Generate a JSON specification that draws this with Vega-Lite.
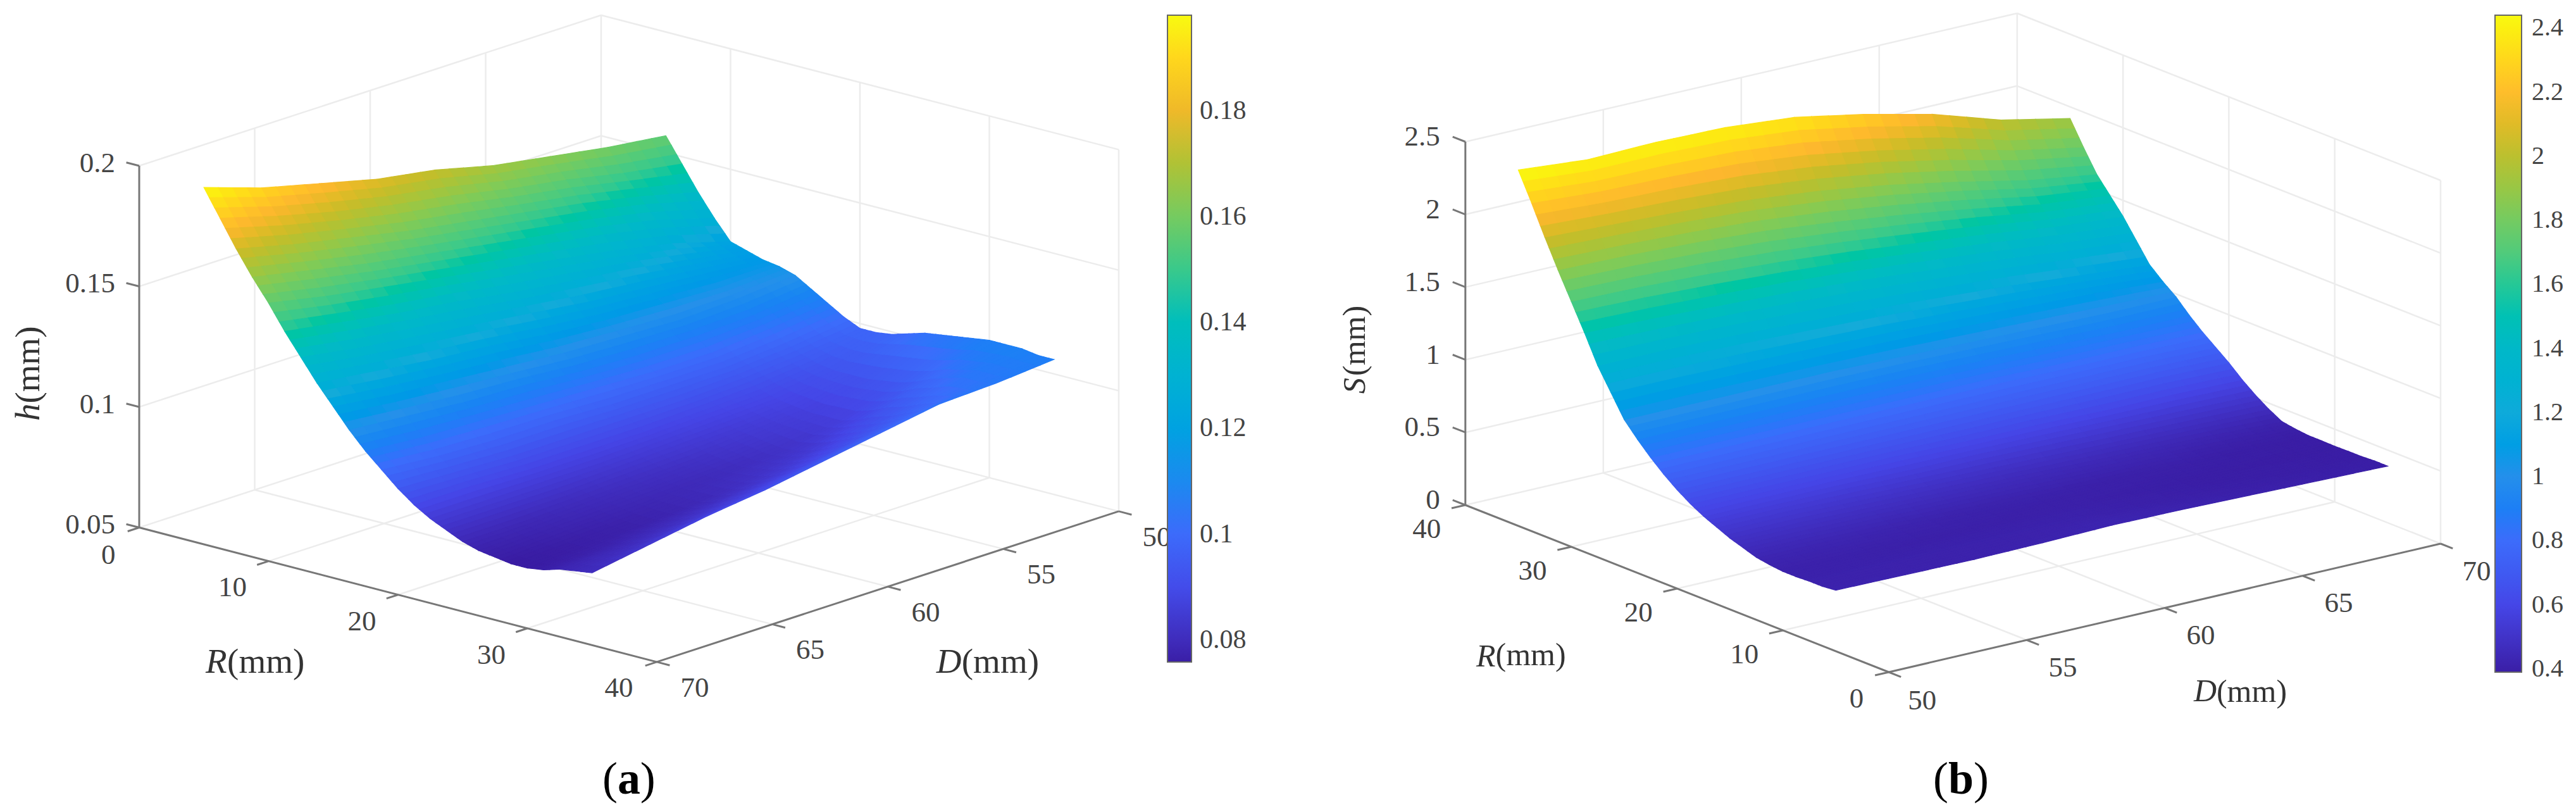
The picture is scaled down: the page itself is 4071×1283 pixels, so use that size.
{"$schema":"https://vega.github.io/schema/vega-lite/v6.json","width":4071,"height":1283,"autosize":{"type":"none"},"padding":0,"background":"white","config":{"view":{"stroke":null}},
"datasets":{
"surfA":[
{"R":5,"D":70,"h":0.198},{"R":5,"D":67.5,"h":0.19},{"R":5,"D":65,"h":0.184},{"R":5,"D":62.5,"h":0.178},{"R":5,"D":60,"h":0.174},{"R":5,"D":57.5,"h":0.168},{"R":5,"D":55,"h":0.164},{"R":5,"D":52.5,"h":0.16},{"R":5,"D":50,"h":0.157},
{"R":6.25,"D":70,"h":0.187},{"R":6.25,"D":67.5,"h":0.18},{"R":6.25,"D":65,"h":0.174},{"R":6.25,"D":62.5,"h":0.169},{"R":6.25,"D":60,"h":0.165},{"R":6.25,"D":57.5,"h":0.16},{"R":6.25,"D":55,"h":0.156},{"R":6.25,"D":52.5,"h":0.151},{"R":6.25,"D":50,"h":0.147},
{"R":7.5,"D":70,"h":0.176},{"R":7.5,"D":67.5,"h":0.17},{"R":7.5,"D":65,"h":0.165},{"R":7.5,"D":62.5,"h":0.16},{"R":7.5,"D":60,"h":0.156},{"R":7.5,"D":57.5,"h":0.152},{"R":7.5,"D":55,"h":0.148},{"R":7.5,"D":52.5,"h":0.143},{"R":7.5,"D":50,"h":0.137},
{"R":8.75,"D":70,"h":0.166},{"R":8.75,"D":67.5,"h":0.161},{"R":8.75,"D":65,"h":0.156},{"R":8.75,"D":62.5,"h":0.152},{"R":8.75,"D":60,"h":0.148},{"R":8.75,"D":57.5,"h":0.144},{"R":8.75,"D":55,"h":0.14},{"R":8.75,"D":52.5,"h":0.135},{"R":8.75,"D":50,"h":0.128},
{"R":10,"D":70,"h":0.157},{"R":10,"D":67.5,"h":0.152},{"R":10,"D":65,"h":0.148},{"R":10,"D":62.5,"h":0.144},{"R":10,"D":60,"h":0.14},{"R":10,"D":57.5,"h":0.136},{"R":10,"D":55,"h":0.132},{"R":10,"D":52.5,"h":0.127},{"R":10,"D":50,"h":0.12},
{"R":11.25,"D":70,"h":0.147},{"R":11.25,"D":67.5,"h":0.143},{"R":11.25,"D":65,"h":0.139},{"R":11.25,"D":62.5,"h":0.136},{"R":11.25,"D":60,"h":0.132},{"R":11.25,"D":57.5,"h":0.129},{"R":11.25,"D":55,"h":0.126},{"R":11.25,"D":52.5,"h":0.122},{"R":11.25,"D":50,"h":0.118},
{"R":12.5,"D":70,"h":0.138},{"R":12.5,"D":67.5,"h":0.134},{"R":12.5,"D":65,"h":0.131},{"R":12.5,"D":62.5,"h":0.128},{"R":12.5,"D":60,"h":0.125},{"R":12.5,"D":57.5,"h":0.122},{"R":12.5,"D":55,"h":0.12},{"R":12.5,"D":52.5,"h":0.118},{"R":12.5,"D":50,"h":0.116},
{"R":13.75,"D":70,"h":0.129},{"R":13.75,"D":67.5,"h":0.126},{"R":13.75,"D":65,"h":0.123},{"R":13.75,"D":62.5,"h":0.121},{"R":13.75,"D":60,"h":0.118},{"R":13.75,"D":57.5,"h":0.116},{"R":13.75,"D":55,"h":0.115},{"R":13.75,"D":52.5,"h":0.114},{"R":13.75,"D":50,"h":0.115},
{"R":15,"D":70,"h":0.121},{"R":15,"D":67.5,"h":0.118},{"R":15,"D":65,"h":0.116},{"R":15,"D":62.5,"h":0.114},{"R":15,"D":60,"h":0.112},{"R":15,"D":57.5,"h":0.111},{"R":15,"D":55,"h":0.11},{"R":15,"D":52.5,"h":0.111},{"R":15,"D":50,"h":0.113},
{"R":16.25,"D":70,"h":0.113},{"R":16.25,"D":67.5,"h":0.111},{"R":16.25,"D":65,"h":0.109},{"R":16.25,"D":62.5,"h":0.108},{"R":16.25,"D":60,"h":0.106},{"R":16.25,"D":57.5,"h":0.105},{"R":16.25,"D":55,"h":0.105},{"R":16.25,"D":52.5,"h":0.106},{"R":16.25,"D":50,"h":0.109},
{"R":17.5,"D":70,"h":0.106},{"R":17.5,"D":67.5,"h":0.104},{"R":17.5,"D":65,"h":0.103},{"R":17.5,"D":62.5,"h":0.102},{"R":17.5,"D":60,"h":0.101},{"R":17.5,"D":57.5,"h":0.1},{"R":17.5,"D":55,"h":0.1},{"R":17.5,"D":52.5,"h":0.102},{"R":17.5,"D":50,"h":0.105},
{"R":18.75,"D":70,"h":0.1},{"R":18.75,"D":67.5,"h":0.098},{"R":18.75,"D":65,"h":0.097},{"R":18.75,"D":62.5,"h":0.097},{"R":18.75,"D":60,"h":0.096},{"R":18.75,"D":57.5,"h":0.096},{"R":18.75,"D":55,"h":0.096},{"R":18.75,"D":52.5,"h":0.098},{"R":18.75,"D":50,"h":0.101},
{"R":20,"D":70,"h":0.094},{"R":20,"D":67.5,"h":0.093},{"R":20,"D":65,"h":0.092},{"R":20,"D":62.5,"h":0.092},{"R":20,"D":60,"h":0.092},{"R":20,"D":57.5,"h":0.092},{"R":20,"D":55,"h":0.093},{"R":20,"D":52.5,"h":0.095},{"R":20,"D":50,"h":0.098},
{"R":21.25,"D":70,"h":0.089},{"R":21.25,"D":67.5,"h":0.089},{"R":21.25,"D":65,"h":0.088},{"R":21.25,"D":62.5,"h":0.088},{"R":21.25,"D":60,"h":0.088},{"R":21.25,"D":57.5,"h":0.089},{"R":21.25,"D":55,"h":0.09},{"R":21.25,"D":52.5,"h":0.093},{"R":21.25,"D":50,"h":0.098},
{"R":22.5,"D":70,"h":0.085},{"R":22.5,"D":67.5,"h":0.085},{"R":22.5,"D":65,"h":0.085},{"R":22.5,"D":62.5,"h":0.085},{"R":22.5,"D":60,"h":0.086},{"R":22.5,"D":57.5,"h":0.087},{"R":22.5,"D":55,"h":0.088},{"R":22.5,"D":52.5,"h":0.092},{"R":22.5,"D":50,"h":0.099},
{"R":23.75,"D":70,"h":0.082},{"R":23.75,"D":67.5,"h":0.082},{"R":23.75,"D":65,"h":0.082},{"R":23.75,"D":62.5,"h":0.083},{"R":23.75,"D":60,"h":0.084},{"R":23.75,"D":57.5,"h":0.085},{"R":23.75,"D":55,"h":0.087},{"R":23.75,"D":52.5,"h":0.092},{"R":23.75,"D":50,"h":0.101},
{"R":25,"D":70,"h":0.079},{"R":25,"D":67.5,"h":0.079},{"R":25,"D":65,"h":0.08},{"R":25,"D":62.5,"h":0.081},{"R":25,"D":60,"h":0.082},{"R":25,"D":57.5,"h":0.084},{"R":25,"D":55,"h":0.086},{"R":25,"D":52.5,"h":0.092},{"R":25,"D":50,"h":0.103},
{"R":26.25,"D":70,"h":0.077},{"R":26.25,"D":67.5,"h":0.078},{"R":26.25,"D":65,"h":0.079},{"R":26.25,"D":62.5,"h":0.08},{"R":26.25,"D":60,"h":0.081},{"R":26.25,"D":57.5,"h":0.083},{"R":26.25,"D":55,"h":0.086},{"R":26.25,"D":52.5,"h":0.093},{"R":26.25,"D":50,"h":0.104},
{"R":27.5,"D":70,"h":0.076},{"R":27.5,"D":67.5,"h":0.077},{"R":27.5,"D":65,"h":0.078},{"R":27.5,"D":62.5,"h":0.079},{"R":27.5,"D":60,"h":0.08},{"R":27.5,"D":57.5,"h":0.082},{"R":27.5,"D":55,"h":0.086},{"R":27.5,"D":52.5,"h":0.094},{"R":27.5,"D":50,"h":0.105},
{"R":28.75,"D":70,"h":0.075},{"R":28.75,"D":67.5,"h":0.076},{"R":28.75,"D":65,"h":0.077},{"R":28.75,"D":62.5,"h":0.079},{"R":28.75,"D":60,"h":0.081},{"R":28.75,"D":57.5,"h":0.083},{"R":28.75,"D":55,"h":0.088},{"R":28.75,"D":52.5,"h":0.096},{"R":28.75,"D":50,"h":0.106},
{"R":30,"D":70,"h":0.075},{"R":30,"D":67.5,"h":0.076},{"R":30,"D":65,"h":0.077},{"R":30,"D":62.5,"h":0.079},{"R":30,"D":60,"h":0.082},{"R":30,"D":57.5,"h":0.085},{"R":30,"D":55,"h":0.091},{"R":30,"D":52.5,"h":0.099},{"R":30,"D":50,"h":0.107},
{"R":31.25,"D":70,"h":0.076},{"R":31.25,"D":67.5,"h":0.077},{"R":31.25,"D":65,"h":0.079},{"R":31.25,"D":62.5,"h":0.081},{"R":31.25,"D":60,"h":0.084},{"R":31.25,"D":57.5,"h":0.088},{"R":31.25,"D":55,"h":0.093},{"R":31.25,"D":52.5,"h":0.101},{"R":31.25,"D":50,"h":0.107},
{"R":32.5,"D":70,"h":0.078},{"R":32.5,"D":67.5,"h":0.079},{"R":32.5,"D":65,"h":0.081},{"R":32.5,"D":62.5,"h":0.084},{"R":32.5,"D":60,"h":0.087},{"R":32.5,"D":57.5,"h":0.091},{"R":32.5,"D":55,"h":0.096},{"R":32.5,"D":52.5,"h":0.103},{"R":32.5,"D":50,"h":0.107},
{"R":33.75,"D":70,"h":0.079},{"R":33.75,"D":67.5,"h":0.081},{"R":33.75,"D":65,"h":0.084},{"R":33.75,"D":62.5,"h":0.087},{"R":33.75,"D":60,"h":0.091},{"R":33.75,"D":57.5,"h":0.095},{"R":33.75,"D":55,"h":0.099},{"R":33.75,"D":52.5,"h":0.103},{"R":33.75,"D":50,"h":0.106},
{"R":35,"D":70,"h":0.08},{"R":35,"D":67.5,"h":0.084},{"R":35,"D":65,"h":0.088},{"R":35,"D":62.5,"h":0.091},{"R":35,"D":60,"h":0.095},{"R":35,"D":57.5,"h":0.099},{"R":35,"D":55,"h":0.103},{"R":35,"D":52.5,"h":0.104},{"R":35,"D":50,"h":0.106}
],
"surfB":[
{"R":5,"D":50,"S":0.42},{"R":5,"D":52.5,"S":0.415},{"R":5,"D":55,"S":0.41},{"R":5,"D":57.5,"S":0.415},{"R":5,"D":60,"S":0.425},{"R":5,"D":62.5,"S":0.42},{"R":5,"D":65,"S":0.41},{"R":5,"D":67.5,"S":0.4},{"R":5,"D":70,"S":0.39},
{"R":6.25,"D":50,"S":0.41},{"R":6.25,"D":52.5,"S":0.41},{"R":6.25,"D":55,"S":0.41},{"R":6.25,"D":57.5,"S":0.41},{"R":6.25,"D":60,"S":0.42},{"R":6.25,"D":62.5,"S":0.41},{"R":6.25,"D":65,"S":0.4},{"R":6.25,"D":67.5,"S":0.395},{"R":6.25,"D":70,"S":0.39},
{"R":7.5,"D":50,"S":0.41},{"R":7.5,"D":52.5,"S":0.41},{"R":7.5,"D":55,"S":0.41},{"R":7.5,"D":57.5,"S":0.41},{"R":7.5,"D":60,"S":0.41},{"R":7.5,"D":62.5,"S":0.4},{"R":7.5,"D":65,"S":0.395},{"R":7.5,"D":67.5,"S":0.39},{"R":7.5,"D":70,"S":0.385},
{"R":8.75,"D":50,"S":0.405},{"R":8.75,"D":52.5,"S":0.405},{"R":8.75,"D":55,"S":0.405},{"R":8.75,"D":57.5,"S":0.405},{"R":8.75,"D":60,"S":0.405},{"R":8.75,"D":62.5,"S":0.4},{"R":8.75,"D":65,"S":0.39},{"R":8.75,"D":67.5,"S":0.39},{"R":8.75,"D":70,"S":0.385},
{"R":10,"D":50,"S":0.405},{"R":10,"D":52.5,"S":0.405},{"R":10,"D":55,"S":0.4},{"R":10,"D":57.5,"S":0.4},{"R":10,"D":60,"S":0.4},{"R":10,"D":62.5,"S":0.395},{"R":10,"D":65,"S":0.39},{"R":10,"D":67.5,"S":0.385},{"R":10,"D":70,"S":0.383},
{"R":11.25,"D":50,"S":0.415},{"R":11.25,"D":52.5,"S":0.415},{"R":11.25,"D":55,"S":0.41},{"R":11.25,"D":57.5,"S":0.405},{"R":11.25,"D":60,"S":0.4},{"R":11.25,"D":62.5,"S":0.4},{"R":11.25,"D":65,"S":0.395},{"R":11.25,"D":67.5,"S":0.39},{"R":11.25,"D":70,"S":0.385},
{"R":12.5,"D":50,"S":0.43},{"R":12.5,"D":52.5,"S":0.43},{"R":12.5,"D":55,"S":0.42},{"R":12.5,"D":57.5,"S":0.41},{"R":12.5,"D":60,"S":0.41},{"R":12.5,"D":62.5,"S":0.4},{"R":12.5,"D":65,"S":0.4},{"R":12.5,"D":67.5,"S":0.39},{"R":12.5,"D":70,"S":0.385},
{"R":13.75,"D":50,"S":0.46},{"R":13.75,"D":52.5,"S":0.455},{"R":13.75,"D":55,"S":0.45},{"R":13.75,"D":57.5,"S":0.44},{"R":13.75,"D":60,"S":0.435},{"R":13.75,"D":62.5,"S":0.425},{"R":13.75,"D":65,"S":0.42},{"R":13.75,"D":67.5,"S":0.405},{"R":13.75,"D":70,"S":0.395},
{"R":15,"D":50,"S":0.49},{"R":15,"D":52.5,"S":0.49},{"R":15,"D":55,"S":0.48},{"R":15,"D":57.5,"S":0.47},{"R":15,"D":60,"S":0.46},{"R":15,"D":62.5,"S":0.45},{"R":15,"D":65,"S":0.44},{"R":15,"D":67.5,"S":0.43},{"R":15,"D":70,"S":0.41},
{"R":16.25,"D":50,"S":0.53},{"R":16.25,"D":52.5,"S":0.53},{"R":16.25,"D":55,"S":0.52},{"R":16.25,"D":57.5,"S":0.51},{"R":16.25,"D":60,"S":0.5},{"R":16.25,"D":62.5,"S":0.49},{"R":16.25,"D":65,"S":0.48},{"R":16.25,"D":67.5,"S":0.47},{"R":16.25,"D":70,"S":0.46},
{"R":17.5,"D":50,"S":0.57},{"R":17.5,"D":52.5,"S":0.57},{"R":17.5,"D":55,"S":0.57},{"R":17.5,"D":57.5,"S":0.56},{"R":17.5,"D":60,"S":0.56},{"R":17.5,"D":62.5,"S":0.55},{"R":17.5,"D":65,"S":0.54},{"R":17.5,"D":67.5,"S":0.53},{"R":17.5,"D":70,"S":0.52},
{"R":18.75,"D":50,"S":0.62},{"R":18.75,"D":52.5,"S":0.62},{"R":18.75,"D":55,"S":0.62},{"R":18.75,"D":57.5,"S":0.62},{"R":18.75,"D":60,"S":0.61},{"R":18.75,"D":62.5,"S":0.61},{"R":18.75,"D":65,"S":0.6},{"R":18.75,"D":67.5,"S":0.6},{"R":18.75,"D":70,"S":0.59},
{"R":20,"D":50,"S":0.68},{"R":20,"D":52.5,"S":0.68},{"R":20,"D":55,"S":0.68},{"R":20,"D":57.5,"S":0.68},{"R":20,"D":60,"S":0.68},{"R":20,"D":62.5,"S":0.68},{"R":20,"D":65,"S":0.68},{"R":20,"D":67.5,"S":0.68},{"R":20,"D":70,"S":0.67},
{"R":21.25,"D":50,"S":0.75},{"R":21.25,"D":52.5,"S":0.75},{"R":21.25,"D":55,"S":0.75},{"R":21.25,"D":57.5,"S":0.75},{"R":21.25,"D":60,"S":0.75},{"R":21.25,"D":62.5,"S":0.75},{"R":21.25,"D":65,"S":0.75},{"R":21.25,"D":67.5,"S":0.75},{"R":21.25,"D":70,"S":0.74},
{"R":22.5,"D":50,"S":0.83},{"R":22.5,"D":52.5,"S":0.83},{"R":22.5,"D":55,"S":0.83},{"R":22.5,"D":57.5,"S":0.83},{"R":22.5,"D":60,"S":0.83},{"R":22.5,"D":62.5,"S":0.83},{"R":22.5,"D":65,"S":0.82},{"R":22.5,"D":67.5,"S":0.82},{"R":22.5,"D":70,"S":0.81},
{"R":23.75,"D":50,"S":0.92},{"R":23.75,"D":52.5,"S":0.92},{"R":23.75,"D":55,"S":0.92},{"R":23.75,"D":57.5,"S":0.92},{"R":23.75,"D":60,"S":0.92},{"R":23.75,"D":62.5,"S":0.91},{"R":23.75,"D":65,"S":0.9},{"R":23.75,"D":67.5,"S":0.89},{"R":23.75,"D":70,"S":0.89},
{"R":25,"D":50,"S":1.02},{"R":25,"D":52.5,"S":1.02},{"R":25,"D":55,"S":1.02},{"R":25,"D":57.5,"S":1.02},{"R":25,"D":60,"S":1.01},{"R":25,"D":62.5,"S":1.0},{"R":25,"D":65,"S":0.99},{"R":25,"D":67.5,"S":0.98},{"R":25,"D":70,"S":0.98},
{"R":26.25,"D":50,"S":1.17},{"R":26.25,"D":52.5,"S":1.17},{"R":26.25,"D":55,"S":1.16},{"R":26.25,"D":57.5,"S":1.15},{"R":26.25,"D":60,"S":1.14},{"R":26.25,"D":62.5,"S":1.12},{"R":26.25,"D":65,"S":1.1},{"R":26.25,"D":67.5,"S":1.08},{"R":26.25,"D":70,"S":1.05},
{"R":27.5,"D":50,"S":1.32},{"R":27.5,"D":52.5,"S":1.32},{"R":27.5,"D":55,"S":1.31},{"R":27.5,"D":57.5,"S":1.29},{"R":27.5,"D":60,"S":1.27},{"R":27.5,"D":62.5,"S":1.24},{"R":27.5,"D":65,"S":1.21},{"R":27.5,"D":67.5,"S":1.17},{"R":27.5,"D":70,"S":1.13},
{"R":28.75,"D":50,"S":1.51},{"R":28.75,"D":52.5,"S":1.5},{"R":28.75,"D":55,"S":1.48},{"R":28.75,"D":57.5,"S":1.46},{"R":28.75,"D":60,"S":1.43},{"R":28.75,"D":62.5,"S":1.39},{"R":28.75,"D":65,"S":1.35},{"R":28.75,"D":67.5,"S":1.3},{"R":28.75,"D":70,"S":1.26},
{"R":30,"D":50,"S":1.69},{"R":30,"D":52.5,"S":1.68},{"R":30,"D":55,"S":1.66},{"R":30,"D":57.5,"S":1.63},{"R":30,"D":60,"S":1.59},{"R":30,"D":62.5,"S":1.54},{"R":30,"D":65,"S":1.49},{"R":30,"D":67.5,"S":1.43},{"R":30,"D":70,"S":1.39},
{"R":31.25,"D":50,"S":1.87},{"R":31.25,"D":52.5,"S":1.86},{"R":31.25,"D":55,"S":1.84},{"R":31.25,"D":57.5,"S":1.81},{"R":31.25,"D":60,"S":1.76},{"R":31.25,"D":62.5,"S":1.7},{"R":31.25,"D":65,"S":1.63},{"R":31.25,"D":67.5,"S":1.55},{"R":31.25,"D":70,"S":1.5},
{"R":32.5,"D":50,"S":2.06},{"R":32.5,"D":52.5,"S":2.04},{"R":32.5,"D":55,"S":2.02},{"R":32.5,"D":57.5,"S":1.99},{"R":32.5,"D":60,"S":1.94},{"R":32.5,"D":62.5,"S":1.87},{"R":32.5,"D":65,"S":1.78},{"R":32.5,"D":67.5,"S":1.68},{"R":32.5,"D":70,"S":1.61},
{"R":33.75,"D":50,"S":2.26},{"R":33.75,"D":52.5,"S":2.23},{"R":33.75,"D":55,"S":2.22},{"R":33.75,"D":57.5,"S":2.2},{"R":33.75,"D":60,"S":2.15},{"R":33.75,"D":62.5,"S":2.07},{"R":33.75,"D":65,"S":1.97},{"R":33.75,"D":67.5,"S":1.85},{"R":33.75,"D":70,"S":1.76},
{"R":35,"D":50,"S":2.45},{"R":35,"D":52.5,"S":2.41},{"R":35,"D":55,"S":2.42},{"R":35,"D":57.5,"S":2.41},{"R":35,"D":60,"S":2.37},{"R":35,"D":62.5,"S":2.28},{"R":35,"D":65,"S":2.17},{"R":35,"D":67.5,"S":2.02},{"R":35,"D":70,"S":1.92}
],
"grid":[
{"p":"a","R":0,"D":70,"z":0.05,"R2":0,"D2":50,"z2":0.05},{"p":"a","R":0,"D":70,"z":0.1,"R2":0,"D2":50,"z2":0.1},{"p":"a","R":0,"D":70,"z":0.15,"R2":0,"D2":50,"z2":0.15},{"p":"a","R":0,"D":70,"z":0.2,"R2":0,"D2":50,"z2":0.2},
{"p":"a","R":0,"D":65,"z":0.05,"R2":0,"D2":65,"z2":0.2},{"p":"a","R":0,"D":60,"z":0.05,"R2":0,"D2":60,"z2":0.2},{"p":"a","R":0,"D":55,"z":0.05,"R2":0,"D2":55,"z2":0.2},{"p":"a","R":0,"D":50,"z":0.05,"R2":0,"D2":50,"z2":0.2},
{"p":"a","R":0,"D":50,"z":0.05,"R2":40,"D2":50,"z2":0.05},{"p":"a","R":0,"D":50,"z":0.1,"R2":40,"D2":50,"z2":0.1},{"p":"a","R":0,"D":50,"z":0.15,"R2":40,"D2":50,"z2":0.15},{"p":"a","R":0,"D":50,"z":0.2,"R2":40,"D2":50,"z2":0.2},
{"p":"a","R":10,"D":50,"z":0.05,"R2":10,"D2":50,"z2":0.2},{"p":"a","R":20,"D":50,"z":0.05,"R2":20,"D2":50,"z2":0.2},{"p":"a","R":30,"D":50,"z":0.05,"R2":30,"D2":50,"z2":0.2},{"p":"a","R":40,"D":50,"z":0.05,"R2":40,"D2":50,"z2":0.2},
{"p":"a","R":0,"D":65,"z":0.05,"R2":40,"D2":65,"z2":0.05},{"p":"a","R":0,"D":60,"z":0.05,"R2":40,"D2":60,"z2":0.05},{"p":"a","R":0,"D":55,"z":0.05,"R2":40,"D2":55,"z2":0.05},
{"p":"a","R":10,"D":70,"z":0.05,"R2":10,"D2":50,"z2":0.05},{"p":"a","R":20,"D":70,"z":0.05,"R2":20,"D2":50,"z2":0.05},{"p":"a","R":30,"D":70,"z":0.05,"R2":30,"D2":50,"z2":0.05},
{"p":"b","R":40,"D":50,"z":0,"R2":40,"D2":70,"z2":0},{"p":"b","R":40,"D":50,"z":0.5,"R2":40,"D2":70,"z2":0.5},{"p":"b","R":40,"D":50,"z":1,"R2":40,"D2":70,"z2":1},{"p":"b","R":40,"D":50,"z":1.5,"R2":40,"D2":70,"z2":1.5},{"p":"b","R":40,"D":50,"z":2,"R2":40,"D2":70,"z2":2},{"p":"b","R":40,"D":50,"z":2.5,"R2":40,"D2":70,"z2":2.5},
{"p":"b","R":40,"D":55,"z":0,"R2":40,"D2":55,"z2":2.5},{"p":"b","R":40,"D":60,"z":0,"R2":40,"D2":60,"z2":2.5},{"p":"b","R":40,"D":65,"z":0,"R2":40,"D2":65,"z2":2.5},{"p":"b","R":40,"D":70,"z":0,"R2":40,"D2":70,"z2":2.5},
{"p":"b","R":40,"D":70,"z":0,"R2":0,"D2":70,"z2":0},{"p":"b","R":40,"D":70,"z":0.5,"R2":0,"D2":70,"z2":0.5},{"p":"b","R":40,"D":70,"z":1,"R2":0,"D2":70,"z2":1},{"p":"b","R":40,"D":70,"z":1.5,"R2":0,"D2":70,"z2":1.5},{"p":"b","R":40,"D":70,"z":2,"R2":0,"D2":70,"z2":2},{"p":"b","R":40,"D":70,"z":2.5,"R2":0,"D2":70,"z2":2.5},
{"p":"b","R":30,"D":70,"z":0,"R2":30,"D2":70,"z2":2.5},{"p":"b","R":20,"D":70,"z":0,"R2":20,"D2":70,"z2":2.5},{"p":"b","R":10,"D":70,"z":0,"R2":10,"D2":70,"z2":2.5},{"p":"b","R":0,"D":70,"z":0,"R2":0,"D2":70,"z2":2.5},
{"p":"b","R":40,"D":55,"z":0,"R2":0,"D2":55,"z2":0},{"p":"b","R":40,"D":60,"z":0,"R2":0,"D2":60,"z2":0},{"p":"b","R":40,"D":65,"z":0,"R2":0,"D2":65,"z2":0},
{"p":"b","R":10,"D":50,"z":0,"R2":10,"D2":70,"z2":0},{"p":"b","R":20,"D":50,"z":0,"R2":20,"D2":70,"z2":0},{"p":"b","R":30,"D":50,"z":0,"R2":30,"D2":70,"z2":0}
],
"axes":[
{"p":"a","R":0,"D":70,"z":0.05,"R2":0,"D2":70,"z2":0.2},{"p":"a","R":0,"D":70,"z":0.05,"R2":40,"D2":70,"z2":0.05},{"p":"a","R":40,"D":70,"z":0.05,"R2":40,"D2":50,"z2":0.05},
{"p":"a","R":0,"D":70,"z":0.05,"R2":-1,"D2":70,"z2":0.05},{"p":"a","R":0,"D":70,"z":0.1,"R2":-1,"D2":70,"z2":0.1},{"p":"a","R":0,"D":70,"z":0.15,"R2":-1,"D2":70,"z2":0.15},{"p":"a","R":0,"D":70,"z":0.2,"R2":-1,"D2":70,"z2":0.2},
{"p":"a","R":0,"D":70,"z":0.05,"R2":0,"D2":70.5,"z2":0.05},{"p":"a","R":10,"D":70,"z":0.05,"R2":10,"D2":70.5,"z2":0.05},{"p":"a","R":20,"D":70,"z":0.05,"R2":20,"D2":70.5,"z2":0.05},{"p":"a","R":30,"D":70,"z":0.05,"R2":30,"D2":70.5,"z2":0.05},{"p":"a","R":40,"D":70,"z":0.05,"R2":40,"D2":70.5,"z2":0.05},
{"p":"a","R":40,"D":70,"z":0.05,"R2":41,"D2":70,"z2":0.05},{"p":"a","R":40,"D":65,"z":0.05,"R2":41,"D2":65,"z2":0.05},{"p":"a","R":40,"D":60,"z":0.05,"R2":41,"D2":60,"z2":0.05},{"p":"a","R":40,"D":55,"z":0.05,"R2":41,"D2":55,"z2":0.05},{"p":"a","R":40,"D":50,"z":0.05,"R2":41,"D2":50,"z2":0.05},
{"p":"b","R":40,"D":50,"z":0,"R2":40,"D2":50,"z2":2.5},{"p":"b","R":40,"D":50,"z":0,"R2":0,"D2":50,"z2":0},{"p":"b","R":0,"D":50,"z":0,"R2":0,"D2":70,"z2":0},
{"p":"b","R":40,"D":50,"z":0,"R2":41.2,"D2":50,"z2":0},{"p":"b","R":40,"D":50,"z":0.5,"R2":41.2,"D2":50,"z2":0.5},{"p":"b","R":40,"D":50,"z":1,"R2":41.2,"D2":50,"z2":1},{"p":"b","R":40,"D":50,"z":1.5,"R2":41.2,"D2":50,"z2":1.5},{"p":"b","R":40,"D":50,"z":2,"R2":41.2,"D2":50,"z2":2},{"p":"b","R":40,"D":50,"z":2.5,"R2":41.2,"D2":50,"z2":2.5},
{"p":"b","R":40,"D":50,"z":0,"R2":40,"D2":49.5,"z2":0},{"p":"b","R":30,"D":50,"z":0,"R2":30,"D2":49.5,"z2":0},{"p":"b","R":20,"D":50,"z":0,"R2":20,"D2":49.5,"z2":0},{"p":"b","R":10,"D":50,"z":0,"R2":10,"D2":49.5,"z2":0},{"p":"b","R":0,"D":50,"z":0,"R2":0,"D2":49.5,"z2":0},
{"p":"b","R":0,"D":50,"z":0,"R2":-1.15,"D2":50,"z2":0},{"p":"b","R":0,"D":55,"z":0,"R2":-1.15,"D2":55,"z2":0},{"p":"b","R":0,"D":60,"z":0,"R2":-1.15,"D2":60,"z2":0},{"p":"b","R":0,"D":65,"z":0,"R2":-1.15,"D2":65,"z2":0},{"p":"b","R":0,"D":70,"z":0,"R2":-1.15,"D2":70,"z2":0}
],
"tickLabels":[
{"p":"a","t":"0","R":0.4,"D":71.56,"z":0.0439},{"p":"a","t":"10","R":10,"D":71.56,"z":0.0439},{"p":"a","t":"20","R":20,"D":71.56,"z":0.0439},{"p":"a","t":"30","R":30,"D":71.56,"z":0.0439},{"p":"a","t":"40","R":39.85,"D":71.56,"z":0.0439},
{"p":"a","t":"70","R":42.93,"D":70,"z":0.0434},{"p":"a","t":"65","R":42.93,"D":65,"z":0.0434},{"p":"a","t":"60","R":42.93,"D":60,"z":0.0434},{"p":"a","t":"55","R":42.93,"D":55,"z":0.0434},{"p":"a","t":"50","R":42.93,"D":50,"z":0.0434},
{"p":"b","t":"40","R":40,"D":48.6,"z":-0.1045},{"p":"b","t":"30","R":30,"D":48.6,"z":-0.1045},{"p":"b","t":"20","R":20,"D":48.6,"z":-0.1045},{"p":"b","t":"10","R":10,"D":48.6,"z":-0.1045},{"p":"b","t":"0","R":-0.6,"D":48.6,"z":-0.1045},
{"p":"b","t":"50","R":-3.41,"D":49.9,"z":-0.0915},{"p":"b","t":"55","R":-3.41,"D":55,"z":-0.0915},{"p":"b","t":"60","R":-3.41,"D":60,"z":-0.0915},{"p":"b","t":"65","R":-3.41,"D":65,"z":-0.0915},{"p":"b","t":"70","R":-3.41,"D":70,"z":-0.0915}
],
"zLabels":[
{"p":"a","t":"0.2","R":-1.86,"D":70,"z":0.1985},{"p":"a","t":"0.15","R":-1.86,"D":70,"z":0.1485},{"p":"a","t":"0.1","R":-1.86,"D":70,"z":0.0985},{"p":"a","t":"0.05","R":-1.86,"D":70,"z":0.0485},
{"p":"b","t":"2.5","R":42.39,"D":50,"z":2.465},{"p":"b","t":"2","R":42.39,"D":50,"z":1.965},{"p":"b","t":"1.5","R":42.39,"D":50,"z":1.465},{"p":"b","t":"1","R":42.39,"D":50,"z":0.965},{"p":"b","t":"0.5","R":42.39,"D":50,"z":0.465},{"p":"b","t":"0","R":42.39,"D":50,"z":-0.035}
],
"titleItalic":[
{"p":"a","t":"R","ang":0,"R":5.13,"D":70,"z":0.00139},{"p":"a","t":"D","ang":0,"R":61.6,"D":70,"z":0.0801},{"p":"a","t":"h","ang":270,"R":-8.557,"D":70,"z":0.0823},
{"p":"b","t":"R","ang":0,"R":38.97,"D":50,"z":-1.0157},{"p":"b","t":"D","ang":0,"R":0,"D":61.055,"z":-0.6237},{"p":"b","t":"S","ang":270,"R":50.36,"D":50,"z":0.4686}
],
"titleUnit":[
{"p":"a","t":"(mm)","ang":0,"R":6.8,"D":70,"z":0.0037},{"p":"a","t":"(mm)","ang":0,"R":63.56,"D":70,"z":0.0828},{"p":"a","t":"(mm)","ang":270,"R":-8.557,"D":70,"z":0.0895},
{"p":"b","t":"(mm)","ang":0,"R":37.15,"D":50,"z":-0.9547},{"p":"b","t":"(mm)","ang":0,"R":0,"D":61.88,"z":-0.6638},{"p":"b","t":"(mm)","ang":270,"R":50.36,"D":50,"z":0.5906}
],
"capParen":[
{"p":"a","t":"(","R":36.38,"D":70,"z":-0.0039},{"p":"a","t":")","R":39.3,"D":70,"z":0.0002},
{"p":"b","t":"(","R":0,"D":51.88,"z":-0.8236},{"p":"b","t":")","R":0,"D":53.349,"z":-0.8885}
],
"capBold":[
{"p":"a","t":"a","R":37.85,"D":70,"z":-0.00184},{"p":"b","t":"b","R":0,"D":52.615,"z":-0.8558}
],
"barTicks":[
{"p":"a","v":0.08},{"p":"a","v":0.1},{"p":"a","v":0.12},{"p":"a","v":0.14},{"p":"a","v":0.16},{"p":"a","v":0.18},
{"p":"b","v":0.4},{"p":"b","v":0.6},{"p":"b","v":0.8},{"p":"b","v":1},{"p":"b","v":1.2},{"p":"b","v":1.4},{"p":"b","v":1.6},{"p":"b","v":1.8},{"p":"b","v":2},{"p":"b","v":2.2},{"p":"b","v":2.4}
]
},
"encoding":{
"x":{"field":"px","type":"quantitative","axis":null,"scale":{"domain":[0,4071],"nice":false,"zero":false}},
"y":{"field":"py","type":"quantitative","axis":null,"scale":{"domain":[1283,0],"nice":false,"zero":false}}
},
"resolve":{"scale":{"fill":"independent","stroke":"independent"}},
"layer":[
{"data":{"name":"grid"},
"transform":[
{"calculate":"datum.p=='a'?220+20.45*datum.R+36.5*(70-datum.D):2985-16.73*datum.R+43.6*(datum.D-50)","as":"px"},
{"calculate":"datum.p=='a'?833.5+5.31*datum.R-11.9*(70-datum.D)-3810*(datum.z-0.05):1062-6.6*datum.R-10.15*(datum.D-50)-229.6*datum.z","as":"py"},
{"calculate":"datum.p=='a'?220+20.45*datum.R2+36.5*(70-datum.D2):2985-16.73*datum.R2+43.6*(datum.D2-50)","as":"px2"},
{"calculate":"datum.p=='a'?833.5+5.31*datum.R2-11.9*(70-datum.D2)-3810*(datum.z2-0.05):1062-6.6*datum.R2-10.15*(datum.D2-50)-229.6*datum.z2","as":"py2"}],
"mark":{"type":"rule","color":"#ececec","strokeWidth":2.5},
"encoding":{"x2":{"field":"px2"},"y2":{"field":"py2"}}},
{"data":{"name":"surfA"},
"transform":[
{"calculate":"[0,1,2,3]","as":"c"},{"flatten":["c"]},
{"calculate":"round((datum.R-5)/1.25)-((datum.c==1||datum.c==2)?1:0)","as":"ci"},
{"calculate":"round((70-datum.D)/2.5)-(datum.c>=2?1:0)","as":"cj"},
{"filter":"datum.ci>=0&&datum.ci<24&&datum.cj>=0&&datum.cj<8"},
{"pivot":"c","value":"h","groupby":["ci","cj"],"op":"mean"},
{"calculate":"[0,1,2]","as":"u"},{"flatten":["u"]},
{"calculate":"[0,1,2,3]","as":"v"},{"flatten":["v"]},
{"calculate":"[0,1,2,3]","as":"k"},{"flatten":["k"]},
{"calculate":"datum.ci*10000+datum.cj*100+datum.u*10+datum.v","as":"sub"},
{"calculate":"(datum.u+((datum.k==1||datum.k==2)?1:0))/3","as":"su"},
{"calculate":"(datum.v+(datum.k>=2?1:0))/4","as":"sv"},
{"calculate":"(1-datum.su)*(1-datum.sv)*datum['0']+datum.su*(1-datum.sv)*datum['1']+datum.su*datum.sv*datum['2']+(1-datum.su)*datum.sv*datum['3']","as":"hv"},
{"calculate":"(datum.u+0.5)/3","as":"mu"},
{"calculate":"(datum.v+0.5)/4","as":"mv"},
{"calculate":"(1-datum.mu)*(1-datum.mv)*datum['0']+datum.mu*(1-datum.mv)*datum['1']+datum.mu*datum.mv*datum['2']+(1-datum.mu)*datum.mv*datum['3']","as":"hc"},
{"calculate":"5+1.25*(datum.ci+datum.su)","as":"Rv"},
{"calculate":"2.5*(datum.cj+datum.sv)","as":"dv"},
{"calculate":"220+20.45*datum.Rv+36.5*datum.dv","as":"px"},
{"calculate":"833.5+5.31*datum.Rv-11.9*datum.dv-3810*(datum.hv-0.05)","as":"py"}],
"mark":{"type":"line","interpolate":"linear-closed","strokeWidth":1.2},
"encoding":{"detail":{"field":"sub"},"order":{"field":"k"},
"fill":{"field":"hc","type":"quantitative","scale":{"domain":[0.0758,0.088,0.1002,0.1125,0.1247,0.1369,0.1491,0.1613,0.1736,0.1821,0.198],"range":["#3a1ea6","#4545e6","#3c6cfb","#2590ea","#14abd9","#04b9c6","#33c98f","#7dcb5a","#c5bd2a","#fdb72e","#f8fa10"]},
"legend":{"type":"gradient","orient":"none","legendX":1845,"legendY":24,"title":null,"direction":"vertical","padding":0,"gradientLength":1022,"gradientThickness":38,"gradientStrokeColor":"#666","gradientStrokeWidth":2,"values":[0.08,0.1,0.12,0.14,0.16,0.18],"format":".2~f","labelFont":"Liberation Serif","labelFontSize":42,"labelColor":"#444","labelOffset":13,"labelOverlap":false}},
"stroke":{"field":"hc","type":"quantitative","legend":null,"scale":{"domain":[0.07581,0.088,0.1002,0.1125,0.1247,0.1369,0.1491,0.1613,0.1736,0.1821,0.198],"range":["#3a1ea6","#4545e6","#3c6cfb","#2590ea","#14abd9","#04b9c6","#33c98f","#7dcb5a","#c5bd2a","#fdb72e","#f8fa10"]}}}},
{"data":{"name":"surfB"},
"transform":[
{"calculate":"[0,1,2,3]","as":"c"},{"flatten":["c"]},
{"calculate":"round((datum.R-5)/1.25)-((datum.c==1||datum.c==2)?1:0)","as":"ci"},
{"calculate":"round((datum.D-50)/2.5)-(datum.c>=2?1:0)","as":"cj"},
{"filter":"datum.ci>=0&&datum.ci<24&&datum.cj>=0&&datum.cj<8"},
{"pivot":"c","value":"S","groupby":["ci","cj"],"op":"mean"},
{"calculate":"[0,1,2]","as":"u"},{"flatten":["u"]},
{"calculate":"[0,1,2,3]","as":"v"},{"flatten":["v"]},
{"calculate":"[0,1,2,3]","as":"k"},{"flatten":["k"]},
{"calculate":"datum.ci*10000+datum.cj*100+datum.u*10+datum.v","as":"sub"},
{"calculate":"(datum.u+((datum.k==1||datum.k==2)?1:0))/3","as":"su"},
{"calculate":"(datum.v+(datum.k>=2?1:0))/4","as":"sv"},
{"calculate":"(1-datum.su)*(1-datum.sv)*datum['0']+datum.su*(1-datum.sv)*datum['1']+datum.su*datum.sv*datum['2']+(1-datum.su)*datum.sv*datum['3']","as":"sval"},
{"calculate":"(datum.u+0.5)/3","as":"mu"},
{"calculate":"(datum.v+0.5)/4","as":"mv"},
{"calculate":"(1-datum.mu)*(1-datum.mv)*datum['0']+datum.mu*(1-datum.mv)*datum['1']+datum.mu*datum.mv*datum['2']+(1-datum.mu)*datum.mv*datum['3']","as":"sc"},
{"calculate":"5+1.25*(datum.ci+datum.su)","as":"Rv"},
{"calculate":"2.5*(datum.cj+datum.sv)","as":"ev"},
{"calculate":"2985-16.73*datum.Rv+43.6*datum.ev","as":"px"},
{"calculate":"1062-6.6*datum.Rv-10.15*datum.ev-229.6*datum.sval","as":"py"}],
"mark":{"type":"line","interpolate":"linear-closed","strokeWidth":1.2},
"encoding":{"detail":{"field":"sub"},"order":{"field":"k"},
"fill":{"field":"sc","type":"quantitative","scale":{"domain":[0.39,0.595,0.8,1.005,1.21,1.415,1.62,1.825,2.03,2.1735,2.44],"range":["#3a1ea6","#4545e6","#3c6cfb","#2590ea","#14abd9","#04b9c6","#33c98f","#7dcb5a","#c5bd2a","#fdb72e","#f8fa10"]},
"legend":{"type":"gradient","orient":"none","legendX":3943,"legendY":24,"title":null,"direction":"vertical","padding":0,"gradientLength":1038,"gradientThickness":42,"gradientStrokeColor":"#666","gradientStrokeWidth":2,"values":[0.4,0.6,0.8,1,1.2,1.4,1.6,1.8,2,2.2,2.4],"format":".1~f","labelFont":"Liberation Serif","labelFontSize":40,"labelColor":"#444","labelOffset":16,"labelOverlap":false}},
"stroke":{"field":"sc","type":"quantitative","legend":null,"scale":{"domain":[0.3901,0.595,0.8,1.005,1.21,1.415,1.62,1.825,2.03,2.1735,2.44],"range":["#3a1ea6","#4545e6","#3c6cfb","#2590ea","#14abd9","#04b9c6","#33c98f","#7dcb5a","#c5bd2a","#fdb72e","#f8fa10"]}}}},
{"data":{"name":"axes"},
"transform":[
{"calculate":"datum.p=='a'?220+20.45*datum.R+36.5*(70-datum.D):2985-16.73*datum.R+43.6*(datum.D-50)","as":"px"},
{"calculate":"datum.p=='a'?833.5+5.31*datum.R-11.9*(70-datum.D)-3810*(datum.z-0.05):1062-6.6*datum.R-10.15*(datum.D-50)-229.6*datum.z","as":"py"},
{"calculate":"datum.p=='a'?220+20.45*datum.R2+36.5*(70-datum.D2):2985-16.73*datum.R2+43.6*(datum.D2-50)","as":"px2"},
{"calculate":"datum.p=='a'?833.5+5.31*datum.R2-11.9*(70-datum.D2)-3810*(datum.z2-0.05):1062-6.6*datum.R2-10.15*(datum.D2-50)-229.6*datum.z2","as":"py2"}],
"mark":{"type":"rule","color":"#777777","strokeWidth":3},
"encoding":{"x2":{"field":"px2"},"y2":{"field":"py2"}}},
{"data":{"name":"tickLabels"},
"transform":[
{"calculate":"datum.p=='a'?220+20.45*datum.R+36.5*(70-datum.D):2985-16.73*datum.R+43.6*(datum.D-50)","as":"px"},
{"calculate":"datum.p=='a'?833.5+5.31*datum.R-11.9*(70-datum.D)-3810*(datum.z-0.05):1062-6.6*datum.R-10.15*(datum.D-50)-229.6*datum.z","as":"py"}],
"mark":{"type":"text","font":"Liberation Serif","fontSize":45,"color":"#444","align":"center","baseline":"middle"},
"encoding":{"text":{"field":"t"}}},
{"data":{"name":"zLabels"},
"transform":[
{"calculate":"datum.p=='a'?220+20.45*datum.R+36.5*(70-datum.D):2985-16.73*datum.R+43.6*(datum.D-50)","as":"px"},
{"calculate":"datum.p=='a'?833.5+5.31*datum.R-11.9*(70-datum.D)-3810*(datum.z-0.05):1062-6.6*datum.R-10.15*(datum.D-50)-229.6*datum.z","as":"py"}],
"mark":{"type":"text","font":"Liberation Serif","fontSize":45,"color":"#444","align":"right","baseline":"middle"},
"encoding":{"text":{"field":"t"}}},
{"data":{"name":"titleItalic"},
"transform":[
{"calculate":"datum.p=='a'?220+20.45*datum.R+36.5*(70-datum.D):2985-16.73*datum.R+43.6*(datum.D-50)","as":"px"},
{"calculate":"datum.p=='a'?833.5+5.31*datum.R-11.9*(70-datum.D)-3810*(datum.z-0.05):1062-6.6*datum.R-10.15*(datum.D-50)-229.6*datum.z","as":"py"}],
"mark":{"type":"text","font":"Liberation Serif","fontStyle":"italic","color":"#333","align":"left","baseline":"middle"},
"encoding":{"text":{"field":"t"},"angle":{"field":"ang","type":"quantitative","scale":null},"size":{"condition":{"test":"datum.p=='a'","value":55},"value":50}}},
{"data":{"name":"titleUnit"},
"transform":[
{"calculate":"datum.p=='a'?220+20.45*datum.R+36.5*(70-datum.D):2985-16.73*datum.R+43.6*(datum.D-50)","as":"px"},
{"calculate":"datum.p=='a'?833.5+5.31*datum.R-11.9*(70-datum.D)-3810*(datum.z-0.05):1062-6.6*datum.R-10.15*(datum.D-50)-229.6*datum.z","as":"py"}],
"mark":{"type":"text","font":"Liberation Serif","color":"#333","align":"left","baseline":"middle"},
"encoding":{"text":{"field":"t"},"angle":{"field":"ang","type":"quantitative","scale":null},"size":{"condition":{"test":"datum.p=='a'","value":55},"value":50}}},
{"data":{"name":"capParen"},
"transform":[
{"calculate":"datum.p=='a'?220+20.45*datum.R+36.5*(70-datum.D):2985-16.73*datum.R+43.6*(datum.D-50)","as":"px"},
{"calculate":"datum.p=='a'?833.5+5.31*datum.R-11.9*(70-datum.D)-3810*(datum.z-0.05):1062-6.6*datum.R-10.15*(datum.D-50)-229.6*datum.z","as":"py"}],
"mark":{"type":"text","font":"Liberation Serif","fontSize":72,"color":"#000","align":"center","baseline":"middle"},
"encoding":{"text":{"field":"t"}}},
{"data":{"name":"capBold"},
"transform":[
{"calculate":"datum.p=='a'?220+20.45*datum.R+36.5*(70-datum.D):2985-16.73*datum.R+43.6*(datum.D-50)","as":"px"},
{"calculate":"datum.p=='a'?833.5+5.31*datum.R-11.9*(70-datum.D)-3810*(datum.z-0.05):1062-6.6*datum.R-10.15*(datum.D-50)-229.6*datum.z","as":"py"}],
"mark":{"type":"text","font":"Liberation Serif","fontSize":72,"fontWeight":"bold","color":"#000","align":"center","baseline":"middle"},
"encoding":{"text":{"field":"t"}}},
{"data":{"name":"barTicks"},
"transform":[
{"calculate":"datum.p=='a'?1876:3978","as":"px"},{"calculate":"datum.p=='a'?1883:3985","as":"px2"},
{"calculate":"datum.p=='a'?1046-(datum.v-0.0758)*8363:1062-(datum.v-0.39)*506.3","as":"py"}],
"mark":{"type":"rule","color":"#333333","strokeWidth":2},
"encoding":{"x2":{"field":"px2"}}}
]}
